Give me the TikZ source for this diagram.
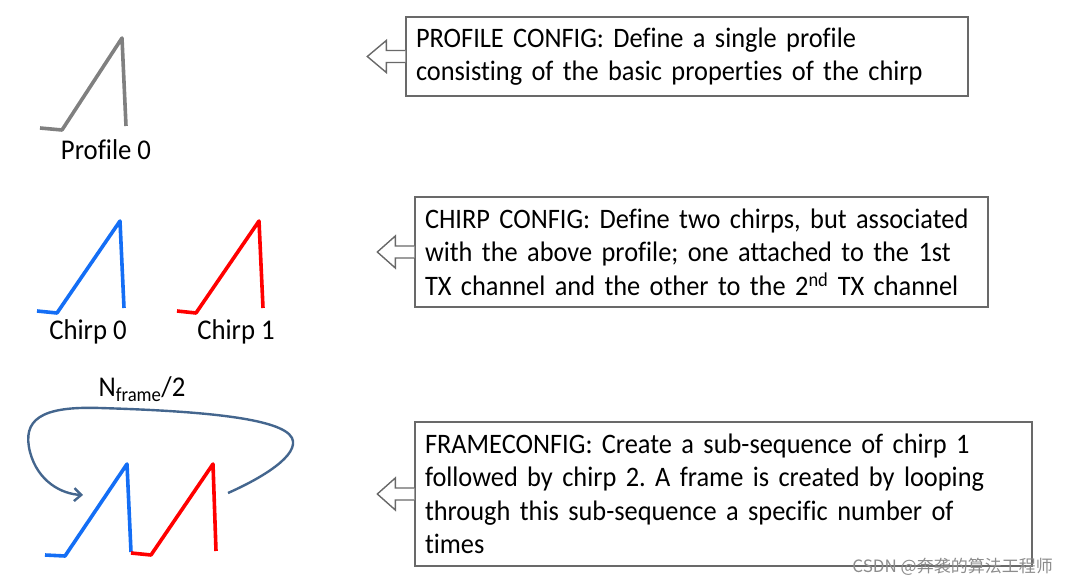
\documentclass[tikz,border=0pt]{standalone}
\usepackage{fontspec}
\setmainfont{Carlito}[Ligatures=NoCommon,FakeStretch=0.935]
\newfontfamily\cfgfamily{Carlito}[Ligatures=NoCommon,FakeStretch=0.935,WordSpace=0.7]
\newfontfamily\cjkfont{Noto Sans CJK SC}
\usetikzlibrary{arrows.meta,positioning}
\definecolor{profileGray}{RGB}{128,128,128}
\definecolor{chirpBlue}{RGB}{20,110,245}
\definecolor{chirpRed}{RGB}{255,0,0}
\definecolor{loopSteel}{RGB}{68,102,142}
\definecolor{boxEdge}{RGB}{105,105,105}
\frenchspacing
\hyphenpenalty=10000

\tikzset{
  cfgbox/.style={draw=boxEdge,line width=1.4pt,align=left,inner xsep=10pt,inner ysep=0pt,
    font=\cfgfamily\fontsize{28.2}{33.5}\selectfont},
  blockarr/.style={draw=boxEdge,fill=white,line width=1.4pt,line join=miter},
  wave/.style={line width=3.6pt,line join=round},
  wavelbl/.style={inner sep=0pt}
}

\begin{document}
\begin{tikzpicture}[x=1pt,y=-1pt,font=\fontsize{28.6}{33.5}\selectfont]
 \useasboundingbox (0,0) rectangle (1068,585);
 % config boxes
 \node[cfgbox,text width=542pt,minimum height=79pt] (profcfg) at (687,56.5)
   {PROFILE CONFIG: Define a single profile\\consisting of the basic properties of the chirp};
 \node[cfgbox,text width=553pt,minimum height=110pt] (chirpcfg) at (701.5,252)
   {CHIRP CONFIG: Define two chirps, but associated\\with the above profile; one attached to the 1st\\TX channel and the other to the 2\textsuperscript{nd} TX channel};
 \node[cfgbox,text width=597pt,minimum height=144pt] (framecfg) at (723.5,494)
   {FRAMECONFIG: Create a sub-sequence of chirp 1\\followed by chirp 2. A frame is created by looping\\through this sub-sequence a specific number of\\times};
 \foreach \b/\len in {profcfg/38,chirpcfg/37,framecfg/37}
   \draw[blockarr,shift={(\b.west)}] (0,-6) -- (-19,-6) -- (-19,-16) -- (-\len,0)
     -- (-19,16) -- (-19,6) -- (0,6);
 % profile and chirps
 \draw[wave,profileGray] (40,128) -- (62,130) -- (122,38) -- (126,126);
 \node[wavelbl] (prof0) at (106,150) {Profile 0};
 \draw[wave,chirpBlue] (37,311) -- (57,313) -- (120,221) -- (124,308);
 \node[wavelbl] (chirp0) at (88,332) {Chirp 0};
 \draw[wave,chirpRed] (177,311) -- (196,313) -- (259,221) -- (263,308);
 \node[wavelbl] (chirp1) at (236,332) {Chirp 1};
 % frame
 \draw[wave,chirpBlue] (45,555) -- (65,556) -- (127,464) -- (131,552);
 \draw[wave,chirpRed] (131,553) -- (151,555) -- (213,464) -- (216,551);
 \coordinate (loopstart) at (228,493);
 \coordinate (loopend) at (83,495);
 \draw[loopSteel,line width=2.4pt,-{Straight Barb[length=7pt,width=13pt]}]
   (loopstart) .. controls (262,478) and (300,455) .. (292,438)
   .. controls (282,418) and (200,411) .. (100,408)
   .. controls (40,406) and (22,420) .. (30,452)
   .. controls (38,482) and (62,494) .. (loopend);
 \node[wavelbl] (nframe) at (142,389) {N\textsubscript{frame}/2};
 \node[anchor=east,inner sep=0pt,text=black!45,font=\fontsize{17}{20}\cjkfont] (mark) at (1053,567)
   {CSDN @奔袭的算法工程师};
\end{tikzpicture}
\end{document}
